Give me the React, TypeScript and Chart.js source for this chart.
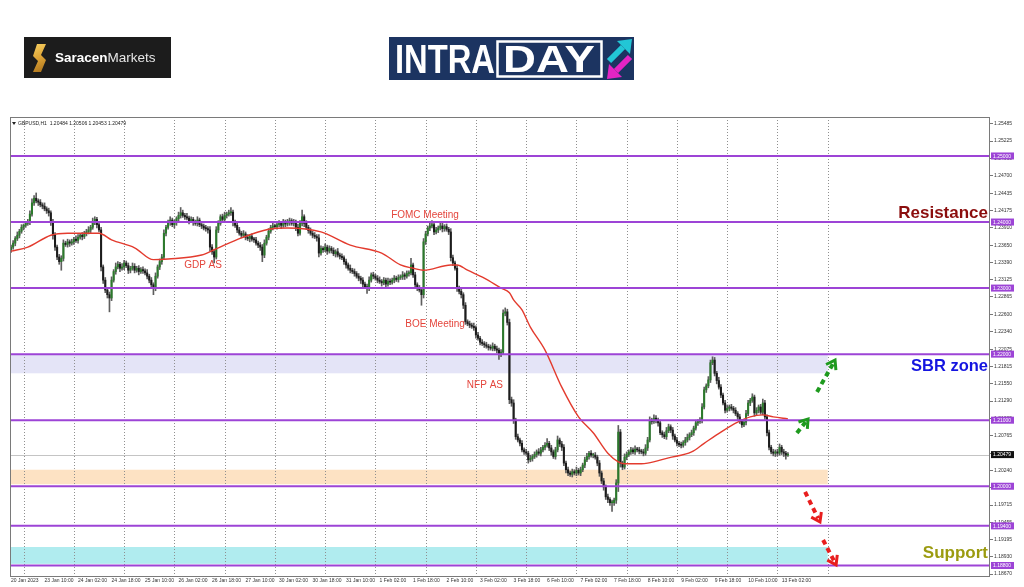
import React, { useEffect, useRef } from "react";
import { Chart, registerables } from "chart.js";

Chart.register(...registerables);

// ---------- DATA (prices in pips above 1.2000) ----------
const BASE = 1.2;
const PIP = 0.0001;
const FIRST_OPEN = 358;

const closes = [
  362, 368, 375, 380, 386, 392, 395, 398, 400, 412, 429, 436, 432, 430, 426, 424, 420, 417, 414, 399, 380, 362, 347, 340,
  345, 368, 366, 370, 368, 370, 374, 372, 377, 380, 378, 383, 385, 388, 392, 400, 404, 396, 388, 332, 312, 297, 290, 285,
  312, 325, 332, 336, 330, 332, 338, 334, 327, 330, 333, 327, 330, 325, 328, 326, 323, 318, 312, 305, 300, 318, 332, 340,
  347, 383, 392, 399, 403, 396, 399, 405, 410, 414, 410, 408, 406, 402, 404, 399, 398, 403, 396, 394, 391, 390, 388, 362,
  355, 347, 388, 398, 408, 404, 410, 412, 414, 415, 399, 395, 388, 383, 380, 382, 377, 375, 378, 374, 373, 368, 365, 362,
  350, 368, 377, 386, 392, 394, 393, 396, 398, 395, 400, 397, 399, 402, 398, 400, 392, 383, 398, 408, 398, 392, 387, 383,
  380, 378, 376, 353, 360, 358, 362, 356, 360, 357, 352, 355, 350, 348, 346, 340, 335, 330, 327, 325, 322, 318, 315, 312,
  306, 302, 300, 312, 320, 318, 315, 312, 310, 308, 312, 306, 310, 309, 312, 315, 313, 316, 317, 320, 318, 322, 323, 335,
  320, 305, 300, 297, 290, 370, 382, 391, 394, 396, 385, 388, 391, 394, 390, 393, 389, 385, 346, 338, 330, 300, 295, 290,
  274, 249, 246, 244, 242, 240, 229, 224, 218, 216, 214, 212, 210, 209, 212, 208, 206, 200, 203, 262, 264, 248, 131, 126,
  100, 75, 70, 65, 55, 52, 50, 40, 42, 45, 48, 52, 50, 55, 59, 62, 65, 58, 52, 45, 55, 70, 64, 59,
  35, 25, 20, 18, 22, 20, 24, 20, 25, 32, 40, 45, 50, 47, 47, 44, 35, 20, 8, -1, -16, -20, -25, -25,
  -21, 5, 82, 35, 29, 44, 48, 52, 55, 52, 56, 55, 53, 52, 50, 58, 70, 100, 98, 103, 100, 96, 81, 78,
  75, 84, 90, 85, 76, 70, 65, 63, 62, 66, 70, 74, 78, 81, 88, 96, 98, 100, 120, 146, 152, 161, 187, 191,
  171, 160, 150, 138, 126, 115, 118, 120, 118, 115, 110, 105, 98, 93, 97, 110, 126, 130, 135, 111, 115, 120, 112, 126,
  105, 81, 59, 52, 50, 52, 50, 59, 52, 50, 47, 48,
];

const wickUp = [
  3, 4, 3, 5, 3, 4, 2, 3, 4, 5, 6, 4, 8, 3, 4, 3, 5, 3, 4, 3, 5, 4, 3, 4,
  4, 5, 3, 4, 3, 4, 3, 5, 4, 3, 4, 3, 4, 5, 3, 6, 4, 3, 5, 4, 3, 4, 3, 4,
  5, 3, 6, 4, 3, 5, 4, 3, 4, 3, 5, 4, 3, 4, 3, 4, 3, 5, 3, 4, 3, 5, 3, 4,
  4, 5, 3, 4, 5, 3, 4, 3, 5, 8, 4, 3, 5, 3, 4, 3, 4, 5, 3, 4, 3, 4, 3, 5,
  4, 3, 5, 4, 3, 4, 5, 3, 4, 7, 3, 4, 3, 4, 3, 5, 3, 4, 3, 4, 3, 4, 3, 4,
  4, 5, 3, 4, 3, 4, 3, 5, 4, 3, 4, 3, 5, 4, 3, 4, 3, 5, 4, 10, 3, 4, 3, 4,
  3, 4, 3, 5, 4, 3, 5, 3, 4, 3, 4, 3, 5, 3, 4, 3, 4, 3, 5, 3, 4, 3, 4, 3,
  4, 3, 4, 5, 3, 4, 3, 4, 5, 3, 4, 3, 5, 4, 3, 4, 3, 4, 3, 5, 3, 4, 3, 10,
  3, 4, 3, 4, 3, 5, 4, 3, 4, 6, 3, 4, 3, 5, 4, 3, 4, 3, 5, 4, 3, 4, 3, 4,
  3, 4, 3, 4, 3, 5, 3, 4, 3, 4, 3, 4, 3, 4, 5, 3, 4, 3, 4, 5, 6, 4, 5, 4,
  5, 3, 4, 3, 4, 3, 4, 3, 5, 3, 4, 3, 5, 4, 3, 4, 7, 3, 4, 3, 4, 6, 3, 4,
  4, 3, 4, 3, 4, 3, 5, 3, 4, 3, 4, 5, 3, 4, 3, 4, 3, 4, 3, 4, 3, 4, 3, 4,
  3, 5, 10, 4, 3, 5, 4, 3, 4, 3, 5, 3, 4, 3, 4, 5, 4, 5, 3, 5, 4, 3, 4, 3,
  4, 5, 4, 3, 4, 3, 4, 3, 4, 3, 4, 5, 3, 4, 3, 4, 3, 4, 5, 4, 3, 5, 4, 5,
  4, 3, 5, 4, 3, 4, 5, 3, 4, 3, 4, 3, 4, 3, 4, 5, 4, 3, 5, 3, 4, 3, 4, 6,
  4, 3, 4, 3, 4, 3, 4, 5, 3, 4, 3, 3,
];

const wickDown = [
  4, 3, 4, 3, 4, 3, 4, 3, 3, 4, 3, 4, 3, 5, 3, 4, 3, 4, 5, 4, 6, 5, 4, 4,
  13, 4, 3, 4, 5, 3, 4, 3, 4, 3, 5, 3, 4, 3, 4, 3, 4, 5, 3, 6, 5, 4, 5, 21,
  4, 3, 4, 3, 5, 3, 4, 3, 5, 4, 3, 4, 3, 5, 3, 4, 3, 4, 4, 5, 10, 4, 3, 4,
  4, 3, 4, 3, 4, 3, 5, 4, 3, 4, 3, 4, 3, 5, 3, 4, 3, 4, 3, 4, 3, 4, 5, 6,
  4, 9, 3, 4, 3, 4, 3, 4, 3, 4, 5, 3, 4, 3, 4, 3, 4, 3, 5, 3, 4, 3, 4, 5,
  10, 4, 3, 4, 3, 4, 3, 4, 3, 5, 3, 4, 3, 4, 3, 4, 5, 4, 3, 4, 5, 3, 4, 3,
  4, 3, 5, 6, 3, 4, 3, 5, 3, 4, 3, 5, 3, 4, 3, 4, 5, 3, 4, 3, 4, 3, 4, 5,
  4, 3, 8, 4, 3, 4, 3, 4, 3, 5, 3, 4, 3, 4, 3, 4, 3, 4, 3, 4, 5, 3, 4, 3,
  4, 5, 4, 3, 16, 5, 4, 3, 4, 3, 4, 3, 4, 3, 5, 4, 3, 4, 5, 4, 3, 5, 4, 5,
  5, 4, 3, 4, 3, 4, 5, 3, 4, 3, 4, 3, 4, 3, 4, 3, 4, 8, 4, 3, 4, 4, 6, 5,
  5, 4, 3, 4, 3, 4, 3, 5, 3, 4, 3, 4, 3, 4, 3, 4, 3, 4, 5, 3, 4, 3, 4, 5,
  4, 5, 4, 3, 4, 3, 4, 3, 4, 3, 4, 3, 4, 3, 4, 3, 4, 5, 4, 5, 4, 5, 4, 13,
  4, 5, 13, 6, 4, 3, 4, 3, 4, 3, 4, 3, 4, 3, 4, 3, 4, 3, 4, 3, 4, 5, 3, 4,
  3, 4, 3, 4, 5, 3, 4, 3, 4, 3, 4, 3, 4, 3, 4, 3, 4, 3, 4, 3, 4, 3, 4, 3,
  4, 5, 3, 4, 3, 4, 3, 4, 3, 4, 3, 4, 3, 4, 3, 4, 3, 4, 3, 5, 3, 4, 3, 4,
  4, 5, 4, 3, 4, 5, 4, 3, 4, 5, 6, 2,
];

// moving average (bar index, pips)
const maBars = [0, 8, 19, 27, 42, 48, 59, 68, 75, 91, 97, 110, 123, 132, 148, 162, 177, 186, 192, 197, 210, 213, 218, 226, 234, 238, 240, 244, 248, 255, 263, 271, 278, 285, 290, 293, 301, 304, 314, 325, 331, 339, 347, 353, 359, 364, 371];
const maValues = [356, 362, 380, 383, 383, 373, 361, 343, 344, 350, 358, 376, 389, 391, 385, 365, 353, 335, 330, 327, 335, 335, 327, 315, 300, 293, 282, 267, 241, 206, 150, 105, 81, 50, 37, 34, 34, 35, 43, 52, 65, 82, 97, 105, 108, 105, 102];

const timeLabels = [
  "20 Jan 2023", "23 Jan 10:00", "24 Jan 02:00", "24 Jan 18:00", "25 Jan 10:00", "26 Jan 02:00",
  "26 Jan 18:00", "27 Jan 10:00", "30 Jan 02:00", "30 Jan 18:00", "31 Jan 10:00", "1 Feb 02:00",
  "1 Feb 18:00", "2 Feb 10:00", "3 Feb 02:00", "3 Feb 18:00", "6 Feb 10:00", "7 Feb 02:00",
  "7 Feb 18:00", "8 Feb 10:00", "9 Feb 02:00", "9 Feb 18:00", "10 Feb 10:00", "13 Feb 02:00",
];
const priceTicks = [
  1.25485, 1.25225, 1.2496, 1.247, 1.24435, 1.24175, 1.2391, 1.2365, 1.2339, 1.23125, 1.22865, 1.226,
  1.2234, 1.22075, 1.21815, 1.2155, 1.2129, 1.21025, 1.20765, 1.205, 1.2024, 1.19975, 1.19715, 1.19455,
  1.19195, 1.1893, 1.1867,
];
const levelPrices = [1.25, 1.24, 1.23, 1.22, 1.21, 1.2, 1.194, 1.188];
const zoneTops = [1.22, 1.2025, 1.1908];
const zoneBottoms = [1.2171, 1.2003, 1.18825];
const lastPrice = 1.20479;
const headerText = "GBPUSD,H1  1.20484 1.20506 1.20453 1.20479";

const eventNames = ["FOMC Meeting", "GDP AS", "BOE Meeting", "NFP AS"];
const eventBars = [198.2, 92.2, 203, 226.8];
const eventPrices = [1.24107, 1.2335, 1.22456, 1.21533];

const zoneNames = ["Resistance", "SBR zone", "Support"];
const zoneNamePrices = [1.24137, 1.2182, 1.1899];

const arrowFromBars = [375.8, 385.4, 379.7, 388.3];
const arrowFromPrices = [1.20806, 1.21427, 1.19913, 1.19186];
const arrowToBars = [381.1, 394, 386.8, 394.5];
const arrowToPrices = [1.21018, 1.2191, 1.19459, 1.1881];

// ---------- derived ----------
const px = (p: number) => BASE + p * PIP;
const opens = closes.map((c, i) => (i === 0 ? FIRST_OPEN : closes[i - 1]));
const bodyPts = closes.map((c, i) => ({ x: i + 0.5, y: [px(opens[i]), px(c)] }));
const wickPts = closes.map((c, i) => ({
  x: i + 0.5,
  y: [px(Math.min(opens[i], c) - wickDown[i]), px(Math.max(opens[i], c) + wickUp[i])],
}));
const bodyColors = closes.map((c, i) => (c >= opens[i] ? "#2b7a2b" : "#1c1c1c"));
const maPts = maBars.map((b, i) => ({ x: b + 0.5, y: px(maValues[i]) }));

const Y_MIN = 1.18641;
const Y_MAX = 1.2559;
const X_MAX = 468;
const BAND_END_BAR = 390.5;

const FONT = '"Liberation Sans", Arial, sans-serif';

function fitText(ctx: CanvasRenderingContext2D, text: string, x: number, y: number, w: number, font: string, color: string) {
  ctx.save();
  ctx.font = font;
  ctx.fillStyle = color;
  ctx.textAlign = "left";
  ctx.textBaseline = "alphabetic";
  const m = ctx.measureText(text).width;
  ctx.translate(x, y);
  ctx.scale(w / m, 1);
  ctx.fillText(text, 0, 0);
  ctx.restore();
}

function drawLogos(ctx: CanvasRenderingContext2D) {
  ctx.save();
  // Saracen Markets
  ctx.fillStyle = "#1c1c1c";
  ctx.fillRect(24, 37, 147, 41);
  const g = ctx.createLinearGradient(33, 44, 46, 72);
  g.addColorStop(0, "#f7d060");
  g.addColorStop(0.5, "#dca236");
  g.addColorStop(1, "#a9701a");
  ctx.fillStyle = g;
  ctx.beginPath();
  ctx.moveTo(37, 44);
  ctx.lineTo(46, 44);
  ctx.lineTo(41, 55);
  ctx.lineTo(46, 60);
  ctx.lineTo(41, 72);
  ctx.lineTo(33, 72);
  ctx.lineTo(38, 61);
  ctx.lineTo(33, 56);
  ctx.closePath();
  ctx.fill();
  ctx.textBaseline = "middle";
  ctx.textAlign = "left";
  ctx.font = `bold 13.5px ${FONT}`;
  ctx.fillStyle = "#ffffff";
  ctx.fillText("Saracen", 55, 58);
  const w = ctx.measureText("Saracen").width;
  ctx.font = `13.5px ${FONT}`;
  ctx.fillStyle = "#e6e6e6";
  ctx.fillText("Markets", 55 + w, 58);

  // INTRADAY
  ctx.fillStyle = "#1c3461";
  ctx.fillRect(389, 37, 245, 43);
  fitText(ctx, "INTRA", 395, 73, 100, `bold 40px ${FONT}`, "#ffffff");
  ctx.strokeStyle = "#ffffff";
  ctx.lineWidth = 2.5;
  ctx.strokeRect(497.5, 41.5, 104, 35);
  fitText(ctx, "DAY", 503, 72, 92, `bold 37px ${FONT}`, "#ffffff");
  // arrows icon
  ctx.lineCap = "butt";
  ctx.strokeStyle = "#22c6d6";
  ctx.fillStyle = "#22c6d6";
  ctx.lineWidth = 6;
  ctx.beginPath();
  ctx.moveTo(609, 61);
  ctx.lineTo(623, 47);
  ctx.stroke();
  ctx.beginPath();
  ctx.moveTo(632, 39);
  ctx.lineTo(617, 41);
  ctx.lineTo(630, 54);
  ctx.closePath();
  ctx.fill();
  ctx.strokeStyle = "#e424c4";
  ctx.fillStyle = "#e424c4";
  ctx.beginPath();
  ctx.moveTo(630, 57);
  ctx.lineTo(616, 71);
  ctx.stroke();
  ctx.beginPath();
  ctx.moveTo(607, 79);
  ctx.lineTo(609, 64);
  ctx.lineTo(622, 77);
  ctx.closePath();
  ctx.fill();
  ctx.restore();
}

function dashedArrow(ctx: CanvasRenderingContext2D, x1: number, y1: number, x2: number, y2: number, color: string) {
  const a = Math.atan2(y2 - y1, x2 - x1);
  ctx.save();
  ctx.strokeStyle = color;
  ctx.lineWidth = 4;
  ctx.setLineDash([5, 4]);
  ctx.beginPath();
  ctx.moveTo(x1, y1);
  ctx.lineTo(x2 - Math.cos(a) * 4, y2 - Math.sin(a) * 4);
  ctx.stroke();
  ctx.setLineDash([]);
  ctx.lineWidth = 3;
  ctx.lineJoin = "miter";
  ctx.beginPath();
  ctx.moveTo(x2 - 10 * Math.cos(a - 0.6), y2 - 10 * Math.sin(a - 0.6));
  ctx.lineTo(x2, y2);
  ctx.lineTo(x2 - 10 * Math.cos(a + 0.6), y2 - 10 * Math.sin(a + 0.6));
  ctx.stroke();
  ctx.restore();
}

const decoPlugin = {
  id: "deco",
  beforeDraw(chart: any) {
    const ctx = chart.ctx as CanvasRenderingContext2D;
    ctx.save();
    ctx.fillStyle = "#ffffff";
    ctx.fillRect(0, 0, chart.width, chart.height);
    ctx.restore();
    drawLogos(ctx);
  },
  beforeDatasetsDraw(chart: any) {
    const ctx = chart.ctx as CanvasRenderingContext2D;
    const a = chart.chartArea;
    const x = chart.scales.x;
    const y = chart.scales.y;
    const xe = x.getPixelForValue(BAND_END_BAR);
    const bandColors = ["#e4e4f7", "#fde2c3", "#b0ecef"];
    ctx.save();
    zoneTops.forEach((t, i) => {
      const y1 = y.getPixelForValue(t);
      const y2 = y.getPixelForValue(zoneBottoms[i]);
      ctx.fillStyle = bandColors[i];
      ctx.fillRect(a.left, y1, xe - a.left, y2 - y1);
    });
    // dotted daily grid
    ctx.strokeStyle = "#8f8f8f";
    ctx.lineWidth = 1;
    ctx.setLineDash([1, 2]);
    for (let k = 0; k <= 16; k++) {
      const gx = Math.round(x.getPixelForValue(6.5 + 24 * k)) + 0.5;
      ctx.beginPath();
      ctx.moveTo(gx, a.top);
      ctx.lineTo(gx, a.bottom + 3);
      ctx.stroke();
    }
    ctx.setLineDash([]);
    // last price line
    const ly = Math.round(y.getPixelForValue(lastPrice)) + 0.5;
    ctx.strokeStyle = "#c4c4c4";
    ctx.beginPath();
    ctx.moveTo(a.left, ly);
    ctx.lineTo(a.right, ly);
    ctx.stroke();
    ctx.restore();
  },
  afterDatasetsDraw(chart: any) {
    const ctx = chart.ctx as CanvasRenderingContext2D;
    const a = chart.chartArea;
    const x = chart.scales.x;
    const y = chart.scales.y;
    ctx.save();
    // level lines
    ctx.strokeStyle = "#9d44d6";
    ctx.lineWidth = 2;
    levelPrices.forEach((p) => {
      const ly = y.getPixelForValue(p);
      ctx.beginPath();
      ctx.moveTo(a.left, ly);
      ctx.lineTo(a.right, ly);
      ctx.stroke();
    });
    // border
    ctx.strokeStyle = "#7a7a7a";
    ctx.lineWidth = 1;
    ctx.strokeRect(a.left + 0.5, a.top + 0.5, a.right - a.left - 1, a.bottom - a.top);
    // header
    ctx.fillStyle = "#222";
    ctx.beginPath();
    ctx.moveTo(12, 122);
    ctx.lineTo(16, 122);
    ctx.lineTo(14, 125);
    ctx.closePath();
    ctx.fill();
    ctx.font = `5px ${FONT}`;
    ctx.textBaseline = "middle";
    ctx.textAlign = "left";
    ctx.fillText(headerText, 18, 123.5);
    // event notes
    ctx.font = `10px ${FONT}`;
    ctx.fillStyle = "#e4453c";
    ctx.textAlign = "center";
    eventNames.forEach((n, i) => {
      ctx.fillText(n, x.getPixelForValue(eventBars[i]), y.getPixelForValue(eventPrices[i]));
    });
    // zone names
    const zColors = ["#8b0d0d", "#1515e0", "#9b9b10"];
    const zSizes = [17, 16.5, 17];
    ctx.textAlign = "right";
    zoneNames.forEach((n, i) => {
      ctx.font = `bold ${zSizes[i]}px ${FONT}`;
      ctx.fillStyle = zColors[i];
      ctx.fillText(n, a.right - 2, y.getPixelForValue(zoneNamePrices[i]));
    });
    // arrows
    const aColors = ["#1e9a1e", "#1e9a1e", "#e81e1e", "#e81e1e"];
    arrowFromBars.forEach((b, i) => {
      dashedArrow(
        ctx,
        x.getPixelForValue(b),
        y.getPixelForValue(arrowFromPrices[i]),
        x.getPixelForValue(arrowToBars[i]),
        y.getPixelForValue(arrowToPrices[i]),
        aColors[i]
      );
    });
    ctx.restore();
  },
  afterDraw(chart: any) {
    const ctx = chart.ctx as CanvasRenderingContext2D;
    const a = chart.chartArea;
    const y = chart.scales.y;
    ctx.save();
    ctx.font = `5px ${FONT}`;
    ctx.textBaseline = "middle";
    ctx.textAlign = "left";
    const tag = (p: number, bg: string, txt: string) => {
      const ty = y.getPixelForValue(p);
      ctx.fillStyle = bg;
      ctx.fillRect(a.right + 1, ty - 3.5, 23, 7);
      ctx.fillStyle = "#ffffff";
      ctx.fillText(txt, a.right + 3, ty + 0.3);
    };
    levelPrices.forEach((p) => tag(p, "#9d44d6", p.toFixed(5)));
    tag(lastPrice, "#111111", lastPrice.toFixed(5));
    ctx.restore();
  },
};

export default function App() {
  const ref = useRef<HTMLCanvasElement>(null);
  useEffect(() => {
    if (!ref.current) return;
    const chart = new Chart(ref.current, {
      type: "bar",
      data: {
        datasets: [
          {
            type: "line",
            data: maPts,
            borderColor: "#e33b2e",
            borderWidth: 1.4,
            pointRadius: 0,
            cubicInterpolationMode: "monotone",
            order: 0,
          } as any,
          {
            type: "bar",
            data: bodyPts,
            backgroundColor: bodyColors,
            barThickness: 1.4,
            grouped: false,
            minBarLength: 1,
            order: 1,
          } as any,
          {
            type: "bar",
            data: wickPts,
            backgroundColor: "#5e5e5e",
            barThickness: 1,
            grouped: false,
            order: 2,
          } as any,
        ],
      },
      options: {
        responsive: false,
        animation: false,
        devicePixelRatio: 1,
        events: [],
        layout: { padding: { left: 10, top: 117, right: 0, bottom: 0 } },
        plugins: { legend: { display: false }, tooltip: { enabled: false } },
        scales: {
          x: {
            type: "linear",
            min: 0,
            max: X_MAX,
            offset: false,
            grid: { display: false, drawTicks: false, tickLength: 0 },
            border: { display: false },
            afterBuildTicks: (s: any) => {
              s.ticks = timeLabels.map((_, k) => ({ value: 16 * k + 0.5 }));
            },
            afterFit: (s: any) => {
              s.height = 11;
              s.paddingLeft = 0;
              s.paddingRight = 0;
            },
            ticks: {
              autoSkip: false,
              maxRotation: 0,
              minRotation: 0,
              align: "start",
              padding: 1.5,
              color: "#333",
              font: { size: 5, family: FONT },
              callback: (_v: any, i: number) => timeLabels[i] ?? "",
            },
          },
          y: {
            type: "linear",
            position: "right",
            min: Y_MIN,
            max: Y_MAX,
            grid: { display: true, drawOnChartArea: false, drawTicks: true, tickLength: 3, color: "#777" },
            border: { display: false },
            afterBuildTicks: (s: any) => {
              s.ticks = priceTicks.map((v) => ({ value: v }));
            },
            afterFit: (s: any) => {
              s.width = 34;
              s.paddingTop = 0;
              s.paddingBottom = 0;
            },
            ticks: {
              autoSkip: false,
              padding: 1,
              color: "#333",
              font: { size: 5, family: FONT },
              callback: (v: any) => Number(v).toFixed(5),
            },
          },
        },
      } as any,
      plugins: [decoPlugin],
    });
    return () => chart.destroy();
  }, []);
  return (
    <div style={{ position: "absolute", left: 0, top: 0, width: 1024, height: 587, background: "#fff" }}>
      <canvas ref={ref} width={1024} height={587} style={{ display: "block", width: 1024, height: 587 }} />
    </div>
  );
}
